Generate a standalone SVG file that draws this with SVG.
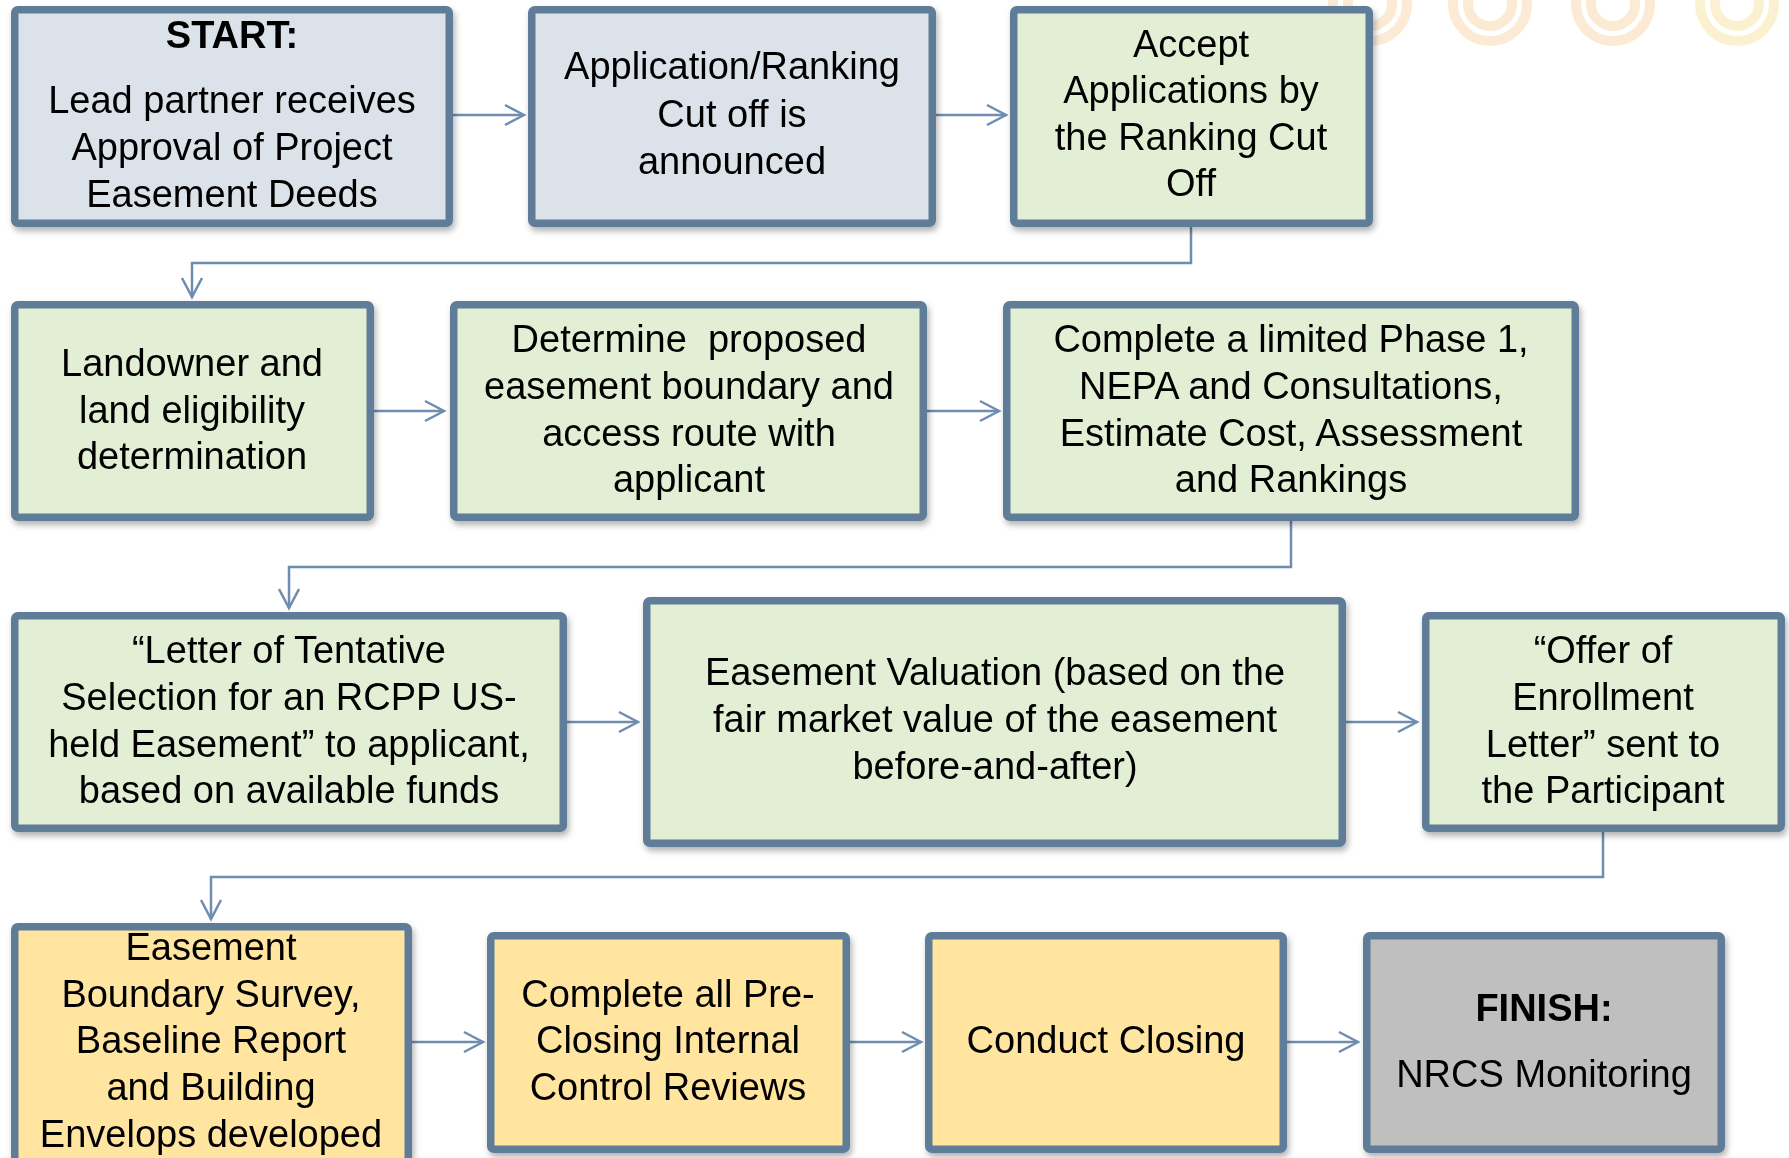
<svg xmlns="http://www.w3.org/2000/svg" width="1789" height="1158" viewBox="0 0 1789 1158">
<defs>
<style>
.box{stroke:#5E7B98;stroke-width:7.5}
.blue{fill:#DCE2E9}
.green{fill:#E3EFD5}
.yellow{fill:#FFE59F}
.gray{fill:#BFBFBF}
.t{font-family:"Liberation Sans",Arial,sans-serif;font-size:38px;fill:#000;text-anchor:middle}
.b{font-weight:bold}
.conn{fill:none;stroke:#6F8DB0;stroke-width:2.5}
.ring{fill:none;stroke-width:10}
</style>
<filter id="sh" x="-5%" y="-5%" width="115%" height="120%">
<feDropShadow dx="2" dy="4" stdDeviation="3" flood-color="#000" flood-opacity="0.3"/>
</filter>
<marker id="arr" markerUnits="userSpaceOnUse" markerWidth="24" markerHeight="24" viewBox="-2 -2 24 24" refX="19" refY="10" orient="auto">
<path d="M0,0 L19,10 L0,20" fill="none" stroke="#6F8DB0" stroke-width="2.5"/>
</marker>
</defs>
<rect width="1789" height="1158" fill="#FFFFFF"/>
<g id="decor" opacity="0.28">
<circle class="ring" cx="1370" cy="4" r="37" stroke="#F5B56A"/>
<circle class="ring" cx="1370" cy="4" r="22" stroke="#F5B56A"/>
<circle class="ring" cx="1490" cy="4" r="37" stroke="#F5B56A"/>
<circle class="ring" cx="1490" cy="4" r="22" stroke="#F5B56A"/>
<circle class="ring" cx="1613" cy="4" r="37" stroke="#F5B56A"/>
<circle class="ring" cx="1613" cy="4" r="22" stroke="#F5B56A"/>
<circle class="ring" cx="1737" cy="4" r="37" stroke="#F2CF5E"/>
<circle class="ring" cx="1737" cy="4" r="22" stroke="#F2CF5E"/>
</g>
<g id="connectors">
<path class="conn" d="M453,115 H524" marker-end="url(#arr)"/>
<path class="conn" d="M936,115 H1006" marker-end="url(#arr)"/>
<path class="conn" d="M1191,227 V263 H192 V297" marker-end="url(#arr)"/>
<path class="conn" d="M374,411 H444" marker-end="url(#arr)"/>
<path class="conn" d="M927,411 H999" marker-end="url(#arr)"/>
<path class="conn" d="M1291,521 V567 H289 V608" marker-end="url(#arr)"/>
<path class="conn" d="M567,722 H638" marker-end="url(#arr)"/>
<path class="conn" d="M1346,722 H1417" marker-end="url(#arr)"/>
<path class="conn" d="M1603,832 V877 H211 V919" marker-end="url(#arr)"/>
<path class="conn" d="M412,1042 H483" marker-end="url(#arr)"/>
<path class="conn" d="M850,1042 H921" marker-end="url(#arr)"/>
<path class="conn" d="M1287,1042 H1358" marker-end="url(#arr)"/>
</g>
<g id="n1" filter="url(#sh)">
<rect class="box blue" x="14.75" y="9.75" width="434.5" height="213.5" rx="3"/>
<text class="t b" x="232" y="48">START:</text>
<text class="t" x="232" y="113">Lead partner receives</text>
<text class="t" x="232" y="160">Approval of Project</text>
<text class="t" x="232" y="207">Easement Deeds</text>
</g>
<g id="n2" filter="url(#sh)">
<rect class="box blue" x="531.75" y="9.75" width="400.5" height="213.5" rx="3"/>
<text class="t" x="732" y="79">Application/Ranking</text>
<text class="t" x="732" y="127">Cut off is</text>
<text class="t" x="732" y="174">announced</text>
</g>
<g id="n3" filter="url(#sh)">
<rect class="box green" x="1013.75" y="9.75" width="355.5" height="213.5" rx="3"/>
<text class="t" x="1191" y="57">Accept</text>
<text class="t" x="1191" y="103">Applications by</text>
<text class="t" x="1191" y="150">the Ranking Cut</text>
<text class="t" x="1191" y="196">Off</text>
</g>
<g id="n4" filter="url(#sh)">
<rect class="box green" x="14.75" y="304.75" width="355.5" height="212.5" rx="3"/>
<text class="t" x="192" y="376">Landowner and</text>
<text class="t" x="192" y="423">land eligibility</text>
<text class="t" x="192" y="469">determination</text>
</g>
<g id="n5" filter="url(#sh)">
<rect class="box green" x="453.75" y="304.75" width="469.5" height="212.5" rx="3"/>
<text class="t" x="689" y="352" style="white-space:pre">Determine  proposed</text>
<text class="t" x="689" y="399">easement boundary and</text>
<text class="t" x="689" y="446">access route with</text>
<text class="t" x="689" y="492">applicant</text>
</g>
<g id="n6" filter="url(#sh)">
<rect class="box green" x="1006.75" y="304.75" width="568.5" height="212.5" rx="3"/>
<text class="t" x="1291" y="352">Complete a limited Phase 1,</text>
<text class="t" x="1291" y="399">NEPA and Consultations,</text>
<text class="t" x="1291" y="446">Estimate Cost, Assessment</text>
<text class="t" x="1291" y="492">and Rankings</text>
</g>
<g id="n7" filter="url(#sh)">
<rect class="box green" x="14.75" y="615.75" width="548.5" height="212.5" rx="3"/>
<text class="t" x="289" y="663">“Letter of Tentative</text>
<text class="t" x="289" y="710">Selection for an RCPP US-</text>
<text class="t" x="289" y="757">held Easement” to applicant,</text>
<text class="t" x="289" y="803">based on available funds</text>
</g>
<g id="n8" filter="url(#sh)">
<rect class="box green" x="646.75" y="600.75" width="695.5" height="242.5" rx="3"/>
<text class="t" x="995" y="685">Easement Valuation (based on the</text>
<text class="t" x="995" y="732">fair market value of the easement</text>
<text class="t" x="995" y="779">before-and-after)</text>
</g>
<g id="n9" filter="url(#sh)">
<rect class="box green" x="1425.75" y="615.75" width="355.5" height="212.5" rx="3"/>
<text class="t" x="1603" y="663">“Offer of</text>
<text class="t" x="1603" y="710">Enrollment</text>
<text class="t" x="1603" y="757">Letter” sent to</text>
<text class="t" x="1603" y="803">the Participant</text>
</g>
<g id="n10" filter="url(#sh)">
<rect class="box yellow" x="14.75" y="926.75" width="393.5" height="250" rx="3"/>
<text class="t" x="211" y="960">Easement</text>
<text class="t" x="211" y="1007">Boundary Survey,</text>
<text class="t" x="211" y="1053">Baseline Report</text>
<text class="t" x="211" y="1100">and Building</text>
<text class="t" x="211" y="1147">Envelops developed</text>
</g>
<g id="n11" filter="url(#sh)">
<rect class="box yellow" x="490.75" y="935.75" width="355.5" height="213.5" rx="3"/>
<text class="t" x="668" y="1007">Complete all Pre-</text>
<text class="t" x="668" y="1053">Closing Internal</text>
<text class="t" x="668" y="1100">Control Reviews</text>
</g>
<g id="n12" filter="url(#sh)">
<rect class="box yellow" x="928.75" y="935.75" width="354.5" height="213.5" rx="3"/>
<text class="t" x="1106" y="1053">Conduct Closing</text>
</g>
<g id="n13" filter="url(#sh)">
<rect class="box gray" x="1366.75" y="935.75" width="354.5" height="213.5" rx="3"/>
<text class="t b" x="1544" y="1021">FINISH:</text>
<text class="t" x="1544" y="1087">NRCS Monitoring</text>
</g>
</svg>
